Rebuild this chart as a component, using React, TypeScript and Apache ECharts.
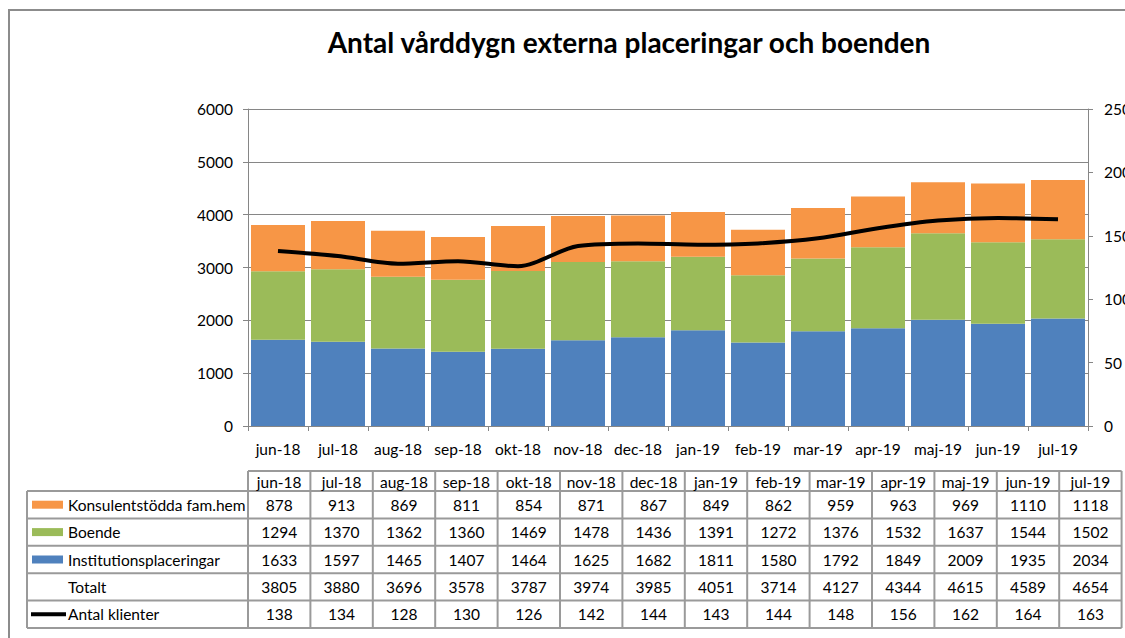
import React, { useEffect, useRef } from "react";
import * as echarts from "echarts";

const categories = ["jun-18", "jul-18", "aug-18", "sep-18", "okt-18", "nov-18", "dec-18", "jan-19", "feb-19", "mar-19", "apr-19", "maj-19", "jun-19", "jul-19"];
const konsulent = [878, 913, 869, 811, 854, 871, 867, 849, 862, 959, 963, 969, 1110, 1118];
const boende = [1294, 1370, 1362, 1360, 1469, 1478, 1436, 1391, 1272, 1376, 1532, 1637, 1544, 1502];
const institution = [1633, 1597, 1465, 1407, 1464, 1625, 1682, 1811, 1580, 1792, 1849, 2009, 1935, 2034];
const totalt = [3805, 3880, 3696, 3578, 3787, 3974, 3985, 4051, 3714, 4127, 4344, 4615, 4589, 4654];
const klienter = [138, 134, 128, 130, 126, 142, 144, 143, 144, 148, 156, 162, 164, 163];

const leftTicks = { min: 0, max: 6000, interval: 1000 };
const rightTicks = { min: 0, max: 250, interval: 50 };

const C_ORANGE = "#F79646";
const C_GREEN = "#9BBB59";
const C_BLUE = "#4F81BD";
const FONT = "Lato, 'Open Sans', sans-serif";

export default function App() {
  const ref = useRef<HTMLDivElement>(null);
  useEffect(() => {
    if (!ref.current) return;
    const chart = echarts.init(ref.current, undefined, { renderer: "svg" });

    // table layout
    const tblLeft = 27;
    const colStart = 248;
    const colW = 62.4;
    const headTop = 471;
    const rowTop = 491;
    const rowH = 27.4;
    const tblRight = colStart + colW * categories.length;
    const rows = [
      { label: "Konsulentstödda fam.hem", values: konsulent, key: "rect", color: C_ORANGE },
      { label: "Boende", values: boende, key: "rect", color: C_GREEN },
      { label: "Institutionsplaceringar", values: institution, key: "rect", color: C_BLUE },
      { label: "Totalt", values: totalt, key: "none", color: "" },
      { label: "Antal klienter", values: klienter, key: "line", color: "#000" },
    ];
    const tblBottom = rowTop + rowH * rows.length;
    const lineStyle = { stroke: "#9a9a9a", lineWidth: 2 };
    const cellFont = `15.5px ${FONT}`;
    const g: any[] = [];
    // frame
    g.push({ type: "rect", shape: { x: 9, y: 10, width: 1300, height: 800 }, style: { fill: "none", stroke: "#8c8c8c", lineWidth: 2 }, silent: true });
    // header horizontal line
    g.push({ type: "line", shape: { x1: colStart, y1: headTop, x2: tblRight, y2: headTop }, style: lineStyle });
    // row lines
    for (let r = 0; r <= rows.length; r++) {
      const y = rowTop + rowH * r;
      g.push({ type: "line", shape: { x1: tblLeft, y1: y, x2: tblRight, y2: y }, style: lineStyle });
    }
    // vertical lines
    g.push({ type: "line", shape: { x1: tblLeft, y1: rowTop, x2: tblLeft, y2: tblBottom }, style: lineStyle });
    for (let c = 0; c <= categories.length; c++) {
      const x = colStart + colW * c;
      g.push({ type: "line", shape: { x1: x, y1: headTop, x2: x, y2: tblBottom }, style: lineStyle });
    }
    // header texts
    categories.forEach((cat, c) => {
      g.push({ type: "text", x: colStart + colW * (c + 0.5), y: (headTop + rowTop) / 2 + 1, style: { text: cat, font: cellFont, fill: "#000", align: "center", verticalAlign: "middle" } });
    });
    rows.forEach((row, r) => {
      const cy = rowTop + rowH * (r + 0.5);
      if (row.key === "rect") {
        g.push({ type: "rect", shape: { x: 32, y: cy - 4, width: 31, height: 8 }, style: { fill: row.color } });
      } else if (row.key === "line") {
        g.push({ type: "line", shape: { x1: 31, y1: cy, x2: 66, y2: cy }, style: { stroke: "#000", lineWidth: 4 } });
      }
      g.push({ type: "text", x: 68, y: cy, style: { text: row.label, font: cellFont, fill: "#000", align: "left", verticalAlign: "middle" } });
      row.values.forEach((v, c) => {
        g.push({ type: "text", x: colStart + colW * (c + 0.5), y: cy, style: { text: String(v), font: cellFont, fill: "#000", align: "center", verticalAlign: "middle" } });
      });
    });

    const axisLine = { show: true, lineStyle: { color: "#868686", width: 1 } };
    const axisTick = { show: true, length: 5, lineStyle: { color: "#868686" } };
    const labelStyle = { color: "#000", fontSize: 15.5, fontFamily: FONT };

    chart.setOption({
      animation: false,
      title: {
        text: "Antal vårddygn externa placeringar och boenden",
        left: 624,
        textAlign: "center",
        top: 23,
        textStyle: { fontSize: 28, fontWeight: "bold", fontFamily: FONT, color: "#000" },
      },
      grid: { left: 248, right: 37, top: 109, bottom: 212, containLabel: false, outerBoundsMode: "none" },
      xAxis: {
        type: "category",
        data: categories,
        axisLine,
        axisTick,
        axisLabel: { ...labelStyle, margin: 15, interval: 0 },
      },
      yAxis: [
        {
          type: "value",
          ...leftTicks,
          axisLine,
          axisTick,
          axisLabel: { ...labelStyle, margin: 15, formatter: (v: number) => String(v) },
          splitLine: { show: true, lineStyle: { color: "#868686", width: 1 } },
        },
        {
          type: "value",
          ...rightTicks,
          position: "right",
          axisLine,
          axisTick,
          axisLabel: { ...labelStyle, margin: 16, formatter: (v: number) => String(v) },
          splitLine: { show: false },
        },
      ],
      series: [
        { name: "Institutionsplaceringar", type: "bar", stack: "a", data: institution, itemStyle: { color: C_BLUE }, barCategoryGap: "10%" },
        { name: "Boende", type: "bar", stack: "a", data: boende, itemStyle: { color: C_GREEN } },
        { name: "Konsulentstödda fam.hem", type: "bar", stack: "a", data: konsulent, itemStyle: { color: C_ORANGE } },
        { name: "Antal klienter", type: "line", yAxisIndex: 1, data: klienter, smooth: 0.3, symbol: "none", lineStyle: { color: "#000", width: 4 }, z: 5 },
      ],
      graphic: g,
    });
    return () => chart.dispose();
  }, []);
  return <div ref={ref} style={{ position: "fixed", left: 0, top: 0, width: 1125, height: 638, background: "#fff" }} />;
}
